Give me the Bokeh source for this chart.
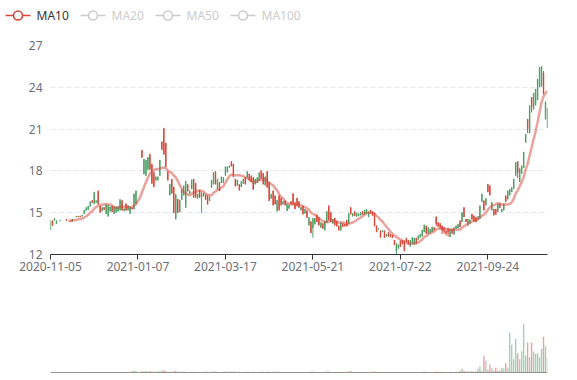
import numpy as np
from bokeh.plotting import figure
from bokeh.models import ColumnDataSource, Range1d, FixedTicker, Span
from bokeh.layouts import column
from bokeh.core.properties import value
from bokeh.embed import file_html
from bokeh.resources import INLINE

# ---------------- data ----------------
tick_index = [0, 44, 88, 132, 176, 220]
tick_labels = ["2020-11-05", "2021-01-07", "2021-03-17", "2021-05-21", "2021-07-22", "2021-09-24"]
price_ticks = [12, 15, 18, 21, 24, 27]
legend_names = ["MA10", "MA20", "MA50", "MA100"]
legend_active = [True, False, False, False]

open_ = [
    13.80, 14.42, 14.45, 14.22, 14.45, 14.43, 14.48, 14.48, 14.52, 14.43,
    14.42, 14.36, 14.55, 14.69, 14.77, 14.77, 14.74, 14.92, 15.16, 15.22,
    15.45, 15.88, 15.65, 15.72, 16.55, 15.48, 15.12, 15.38, 14.92, 14.75,
    15.10, 15.48, 14.92, 15.02, 15.10, 15.17, 15.88, 15.12, 15.65, 15.17,
    14.92, 15.36, 15.26, 15.62, 17.60, 18.50, 19.48, 17.77, 17.67, 18.10,
    19.20, 18.48, 17.88, 17.32, 17.33, 17.67, 20.09, 21.05, 20.00, 17.96,
    16.26, 17.41, 16.85, 14.55, 15.98, 15.06, 15.94, 16.26, 15.40, 17.03,
    16.38, 16.71, 17.41, 17.12, 16.02, 16.62, 16.10, 16.18, 16.29, 16.22,
    15.85, 16.81, 17.05, 17.96, 16.69, 17.17, 17.14, 17.14, 17.67, 17.91,
    18.24, 18.68, 18.49, 17.41, 16.95, 17.03, 16.85, 17.09, 17.53, 17.52,
    17.78, 17.65, 17.53, 17.05, 17.14, 17.28, 18.01, 17.84, 16.97, 17.96,
    17.17, 16.02, 16.57, 16.22, 15.11, 16.22, 16.05, 15.61, 15.86, 15.13,
    15.30, 15.81, 16.38, 15.74, 16.05, 15.81, 15.18, 15.50, 14.94, 15.14,
    14.10, 14.37, 13.90, 14.17, 14.85, 14.66, 13.93, 14.23, 13.74, 14.27,
    15.50, 15.02, 14.22, 14.61, 14.42, 14.06, 13.74, 14.23, 14.18, 14.47,
    14.22, 15.38, 14.75, 15.09, 14.72, 14.77, 14.82, 15.08, 14.87, 14.92,
    14.70, 15.19, 15.08, 14.98, 14.06, 13.78, 13.70, 13.62, 13.70, 13.30,
    13.58, 13.45, 13.40, 13.03, 12.20, 12.43, 12.98, 13.03, 12.98, 13.18,
    13.03, 12.59, 12.79, 12.71, 13.18, 13.07, 13.22, 13.31, 13.62, 14.06,
    13.50, 13.55, 13.62, 13.94, 14.71, 14.30, 14.23, 14.06, 13.94, 13.70,
    13.87, 13.26, 13.82, 13.43, 13.86, 13.91, 14.42, 14.34, 15.38, 14.54,
    14.10, 14.22, 14.90, 14.78, 14.66, 14.53, 14.58, 15.78, 15.86, 15.54,
    17.05, 16.93, 15.18, 15.26, 15.26, 15.06, 15.66, 15.06, 15.18, 16.22,
    15.97, 16.26, 16.49, 16.73, 17.67, 18.68, 17.22, 17.81, 18.22, 20.04,
    21.72, 20.72, 23.28, 22.42, 22.72, 23.08, 24.03, 24.08, 25.00, 21.72,
    21.09,
]
close = [
    14.40, 14.08, 14.58, 14.42, 14.45, 14.48, 14.48, 14.48, 14.43, 14.43,
    14.36, 14.55, 14.55, 14.76, 14.70, 14.70, 14.84, 15.18, 15.38, 15.48,
    15.78, 15.72, 16.45, 15.88, 15.60, 15.02, 15.38, 15.22, 15.58, 15.55,
    15.42, 15.06, 15.42, 15.42, 15.42, 15.95, 15.17, 15.28, 15.17, 15.54,
    15.42, 15.25, 16.35, 16.58, 17.60, 18.50, 18.96, 18.85, 18.78, 18.98,
    18.10, 17.09, 16.86, 17.58, 17.58, 18.78, 19.53, 19.18, 18.29, 17.33,
    17.05, 16.38, 15.00, 16.30, 15.00, 15.90, 16.67, 16.93, 17.25, 16.54,
    16.57, 17.36, 16.09, 16.09, 16.34, 16.09, 16.40, 16.41, 15.94, 15.61,
    16.14, 17.34, 17.89, 17.05, 17.41, 16.57, 17.58, 17.53, 18.30, 18.30,
    18.37, 18.34, 17.57, 16.90, 17.34, 16.61, 17.24, 17.41, 17.05, 17.96,
    17.33, 17.21, 16.66, 17.41, 17.53, 17.89, 17.45, 17.05, 17.58, 16.81,
    15.85, 16.34, 15.54, 15.61, 15.90, 15.18, 15.54, 15.81, 15.54, 15.62,
    15.57, 15.61, 15.61, 15.27, 15.51, 15.37, 15.38, 14.89, 15.26, 14.65,
    14.66, 13.55, 14.60, 14.61, 14.34, 14.10, 14.30, 13.86, 14.42, 15.09,
    14.46, 14.34, 14.54, 14.10, 14.03, 13.74, 14.30, 13.98, 14.03, 14.03,
    14.95, 14.89, 14.95, 14.77, 14.98, 14.93, 15.03, 14.87, 15.18, 15.23,
    15.07, 14.94, 14.80, 14.05, 13.62, 13.84, 13.22, 13.72, 13.22, 13.45,
    13.30, 13.25, 13.20, 12.70, 12.78, 12.70, 12.55, 12.74, 12.26, 12.91,
    12.74, 13.03, 13.22, 13.18, 12.79, 13.34, 13.46, 13.75, 14.13, 13.50,
    13.94, 13.82, 13.98, 13.74, 14.20, 14.05, 13.95, 13.70, 13.65, 13.50,
    13.60, 13.79, 13.50, 13.94, 14.06, 14.18, 13.98, 15.02, 14.70, 14.34,
    14.54, 14.49, 14.53, 14.39, 14.34, 14.73, 15.50, 16.34, 15.18, 16.02,
    16.49, 16.26, 15.74, 14.82, 14.87, 15.62, 15.35, 15.26, 15.62, 15.78,
    16.57, 16.69, 16.81, 17.41, 18.61, 17.90, 18.18, 18.37, 19.35, 20.64,
    21.00, 22.68, 22.60, 23.58, 23.87, 24.58, 25.43, 25.50, 23.60, 22.96,
    22.50,
]
low = [
    13.75, 14.05, 14.43, 14.20, 14.45, 14.42, 14.48, 14.48, 14.42, 14.43,
    14.35, 14.35, 14.55, 14.68, 14.68, 14.68, 14.73, 14.90, 15.15, 15.20,
    15.44, 15.70, 15.60, 15.70, 15.58, 15.00, 15.10, 15.20, 14.90, 14.72,
    15.08, 15.04, 14.90, 15.00, 15.08, 15.15, 15.15, 15.10, 15.15, 15.15,
    14.90, 15.24, 15.24, 15.60, 17.60, 18.50, 18.94, 17.75, 17.65, 18.08,
    18.08, 17.07, 16.83, 17.30, 17.31, 17.65, 19.51, 19.15, 18.27, 17.31,
    16.24, 16.36, 14.97, 14.51, 14.97, 15.04, 15.92, 16.24, 15.33, 16.52,
    16.36, 16.69, 16.07, 16.07, 16.00, 16.07, 14.97, 16.16, 15.92, 15.59,
    15.83, 16.79, 17.03, 17.03, 16.67, 16.55, 17.12, 17.12, 17.65, 17.89,
    18.22, 18.32, 17.55, 16.88, 16.93, 16.59, 16.83, 17.07, 17.03, 17.50,
    17.31, 17.19, 16.64, 17.03, 17.12, 17.26, 17.43, 17.03, 16.95, 16.79,
    15.83, 16.00, 15.52, 15.59, 15.09, 15.16, 15.52, 15.59, 15.52, 15.11,
    15.28, 15.59, 15.59, 15.25, 15.49, 15.35, 15.16, 14.87, 14.92, 14.63,
    14.08, 13.53, 13.20, 14.15, 14.32, 14.08, 13.91, 13.84, 13.72, 14.25,
    14.44, 14.32, 14.20, 14.08, 14.01, 13.72, 13.72, 13.96, 14.01, 14.01,
    14.20, 14.87, 14.73, 14.75, 14.70, 14.75, 14.80, 14.85, 14.85, 14.90,
    14.68, 14.92, 14.78, 14.01, 13.60, 13.77, 13.20, 13.60, 13.20, 13.28,
    13.29, 13.24, 13.18, 12.69, 12.00, 12.41, 12.53, 12.72, 12.24, 12.89,
    12.72, 12.57, 12.77, 12.69, 12.77, 13.05, 13.20, 13.29, 13.60, 13.48,
    13.48, 13.53, 13.60, 13.72, 14.01, 13.96, 13.77, 13.48, 13.48, 13.36,
    13.29, 13.24, 13.48, 13.41, 13.84, 13.89, 13.96, 14.32, 14.68, 14.32,
    14.08, 14.20, 14.51, 14.37, 14.32, 14.51, 14.56, 15.76, 15.16, 15.52,
    16.47, 16.24, 15.16, 14.80, 14.85, 15.04, 15.33, 15.04, 15.16, 15.76,
    15.95, 16.24, 16.47, 16.71, 17.65, 17.50, 17.20, 17.79, 18.20, 20.02,
    20.71, 20.70, 22.20, 22.40, 22.70, 23.06, 24.01, 24.06, 23.50, 21.69,
    21.07,
]
high = [
    14.45, 14.45, 14.62, 14.45, 14.45, 14.49, 14.48, 14.48, 14.53, 14.43,
    14.42, 14.56, 14.55, 14.77, 14.78, 14.78, 14.85, 15.20, 15.39, 15.50,
    15.80, 15.90, 16.50, 15.90, 16.60, 15.50, 15.40, 15.40, 15.60, 15.56,
    15.44, 15.50, 15.44, 15.44, 15.44, 15.98, 15.90, 15.30, 15.67, 15.56,
    15.44, 15.37, 16.37, 16.60, 17.60, 18.50, 19.51, 18.87, 18.80, 19.00,
    19.23, 18.51, 17.92, 17.60, 17.60, 18.80, 20.11, 21.09, 20.02, 17.98,
    17.07, 17.43, 16.88, 16.36, 16.00, 15.92, 16.69, 16.95, 17.29, 17.05,
    16.59, 17.38, 17.43, 17.14, 16.36, 16.64, 16.47, 16.43, 16.31, 16.24,
    16.16, 17.36, 17.91, 17.98, 17.43, 17.19, 17.60, 17.55, 18.32, 18.32,
    18.39, 18.70, 18.51, 17.43, 17.36, 17.05, 17.26, 17.43, 17.55, 17.98,
    17.80, 17.67, 17.55, 17.43, 17.55, 17.91, 18.03, 17.86, 17.60, 17.98,
    17.19, 16.36, 16.59, 16.24, 15.92, 16.24, 16.07, 15.83, 15.88, 15.64,
    15.59, 15.83, 16.40, 15.76, 16.07, 15.83, 15.40, 15.52, 15.28, 15.16,
    14.68, 14.39, 14.63, 14.63, 14.87, 14.68, 14.32, 14.25, 14.44, 15.11,
    15.52, 15.04, 14.56, 14.63, 14.44, 14.08, 14.32, 14.25, 14.20, 14.49,
    14.97, 15.40, 14.97, 15.11, 15.00, 14.95, 15.05, 15.10, 15.20, 15.25,
    15.09, 15.21, 15.10, 15.00, 14.08, 13.86, 13.72, 13.74, 13.72, 13.47,
    13.60, 13.47, 13.42, 13.05, 12.81, 12.72, 13.00, 13.05, 13.00, 13.20,
    13.05, 13.05, 13.24, 13.20, 13.20, 13.36, 13.48, 13.77, 14.15, 14.08,
    13.96, 13.84, 14.00, 13.96, 14.73, 14.32, 14.25, 14.08, 13.96, 13.72,
    13.89, 13.82, 13.84, 13.96, 14.08, 14.20, 14.44, 15.04, 15.40, 14.56,
    14.56, 14.51, 14.92, 14.80, 14.68, 14.75, 15.52, 16.36, 15.88, 16.04,
    17.07, 16.95, 15.76, 15.28, 15.28, 15.64, 15.68, 15.28, 15.64, 16.24,
    16.59, 16.71, 16.83, 17.43, 18.63, 18.70, 18.20, 18.39, 19.37, 20.66,
    21.74, 22.70, 23.30, 23.60, 23.89, 24.60, 25.45, 25.52, 25.16, 22.98,
    22.53,
]
volume = [
    0.4, 0.3, 0.3, 0.3, 0.2, 0.3, 0.2, 0.2, 0.3, 0.2,
    0.3, 0.3, 0.2, 0.3, 0.3, 0.3, 0.3, 0.4, 0.4, 0.4,
    0.5, 0.4, 0.6, 0.4, 0.6, 0.5, 0.4, 0.4, 0.5, 0.5,
    0.4, 0.4, 0.4, 0.4, 0.4, 0.5, 0.5, 0.4, 0.4, 0.4,
    0.5, 1.2, 2.0, 1.5, 0.3, 0.3, 1.2, 1.0, 1.5, 1.0,
    1.2, 1.0, 0.8, 0.8, 1.0, 1.2, 1.5, 2.2, 1.2, 0.8,
    0.8, 0.8, 1.2, 2.0, 0.8, 0.7, 0.7, 0.8, 1.0, 0.6,
    0.6, 0.7, 0.8, 0.7, 0.6, 0.6, 0.8, 0.6, 1.0, 0.8,
    0.6, 0.8, 1.0, 0.9, 0.7, 0.6, 0.6, 0.7, 0.9, 0.8,
    0.8, 1.0, 1.0, 0.8, 0.6, 0.7, 0.6, 0.6, 0.7, 0.8,
    0.7, 0.6, 0.8, 0.6, 0.6, 0.7, 0.7, 0.7, 0.6, 0.8,
    1.0, 0.6, 0.8, 0.7, 0.7, 0.8, 0.6, 0.5, 0.5, 0.6,
    0.5, 0.5, 0.6, 0.6, 0.6, 0.5, 0.5, 0.6, 0.5, 0.6,
    0.6, 0.9, 1.0, 0.7, 0.6, 0.6, 0.5, 0.6, 0.8, 1.2,
    1.0, 0.6, 0.5, 0.6, 0.5, 0.6, 0.7, 0.5, 0.5, 0.6,
    1.5, 1.2, 0.6, 0.5, 0.5, 0.5, 0.6, 0.6, 0.5, 0.5,
    0.6, 0.7, 0.8, 0.9, 0.7, 0.5, 0.6, 0.5, 0.6, 0.5,
    0.5, 0.5, 0.5, 0.6, 0.8, 0.6, 0.5, 0.5, 0.5, 0.4,
    0.5, 0.5, 0.5, 0.5, 0.5, 0.5, 0.5, 0.7, 1.0, 0.8,
    0.6, 0.6, 0.6, 0.6, 1.0, 0.8, 0.8, 0.7, 0.6, 0.6,
    0.6, 0.7, 0.6, 0.6, 0.7, 0.8, 1.5, 3.7, 2.0, 1.0,
    1.2, 1.0, 1.2, 1.0, 1.0, 3.7, 6.0, 2.0, 16.7, 12.0,
    2.7, 8.0, 4.3, 2.0, 4.7, 2.0, 2.0, 4.7, 4.0, 9.3,
    5.0, 39.7, 27.7, 13.3, 33.7, 19.0, 13.3, 21.3, 48.3, 17.3,
    30.0, 15.3, 30.0, 21.0, 18.7, 19.3, 15.3, 23.7, 35.7, 26.3,
    14.7,
]

# ---------------- styling ----------------
UP = "#52a069"
DOWN = "#d6483a"
MA_COLOR = "#d6483a"
GREY = "#cccccc"
FONT = "Noto Sans"
LABEL = "#6E7079"
W = 577

n = len(close)
idx = list(range(n))
colors = [UP if c >= o else DOWN for o, c in zip(open_, close)]
src = ColumnDataSource(dict(
    x=idx, low=low, high=high,
    top=[max(o, c) for o, c in zip(open_, close)],
    bottom=[min(o, c) for o, c in zip(open_, close)],
    color=colors, vol=volume,
))
ma10 = np.convolve(np.array(close), np.ones(10) / 10.0, mode="valid")
ma_x = list(range(9, n))

# ---------------- legend strip ----------------
pl = figure(width=W, height=28, x_range=Range1d(0, W), y_range=Range1d(0, 28),
            output_backend="svg", toolbar_location=None,
            x_axis_location=None, y_axis_location=None, min_border=0)
if "frame_align" in pl.properties():
    pl.frame_align = False
pl.grid.visible = False
pl.outline_line_color = None
icon_x = [5, 80, 155, 230]
text_x = [36, 111, 186, 261]
cy = [13] * 4
icon_col = [MA_COLOR if a else GREY for a in legend_active]
text_col = ["#333333" if a else GREY for a in legend_active]
pl.segment(x0=icon_x, y0=cy, x1=[x + 25 for x in icon_x], y1=cy,
           line_color=icon_col, line_width=1.6)
pl.scatter(x=[x + 12.5 for x in icon_x], y=cy, size=9, marker="circle",
           fill_color="white", line_color=icon_col, line_width=1.6)
pl.text(x=text_x, y=cy, text=legend_names, text_color=text_col,
        text_font=value(FONT), text_font_size=value("12px"),
        text_baseline="middle", text_align="left")

# ---------------- main candlestick panel ----------------
p1 = figure(width=W, height=262, x_range=Range1d(0, n - 1), y_range=Range1d(12, 27),
            output_backend="svg", toolbar_location=None,
            min_border_left=50, min_border_right=30, min_border_top=17, min_border_bottom=36)
p1.outline_line_color = None
p1.xgrid.visible = False
p1.ygrid.ticker = FixedTicker(ticks=price_ticks)
p1.ygrid.grid_line_color = "#E0E6F1"
p1.ygrid.grid_line_dash = "5 3"
p1.ygrid.grid_line_width = 1

p1.yaxis.ticker = FixedTicker(ticks=price_ticks)
p1.yaxis.axis_line_color = None
p1.yaxis.major_tick_line_color = None
p1.yaxis.minor_tick_line_color = None
p1.yaxis.major_tick_out = 0
p1.yaxis.major_tick_in = 0
p1.yaxis.minor_tick_out = 0
p1.yaxis.major_label_standoff = 8
p1.yaxis.major_label_text_font = FONT
p1.yaxis.major_label_text_font_size = "12px"
p1.yaxis.major_label_text_color = LABEL

p1.xaxis.ticker = FixedTicker(ticks=tick_index, minor_ticks=[])
p1.xaxis.major_label_overrides = {i: lab for i, lab in zip(tick_index, tick_labels)}
p1.xaxis.axis_line_color = "#333333"
p1.xaxis.major_tick_line_color = "#333333"
p1.xaxis.major_tick_out = 5
p1.xaxis.major_tick_in = 0
p1.xaxis.minor_tick_line_color = None
p1.xaxis.major_label_standoff = 2
p1.xaxis.major_label_text_font = FONT
p1.xaxis.major_label_text_font_size = "12px"
p1.xaxis.major_label_text_color = LABEL

p1.segment(x0="x", y0="low", x1="x", y1="high", line_color="color", line_width=1, source=src)
p1.vbar(x="x", width=0.7, top="top", bottom="bottom", fill_color="color",
        line_color=None, source=src)
p1.line(x=ma_x, y=ma10, line_color=MA_COLOR, line_alpha=0.5, line_width=2.5)

# ---------------- volume panel ----------------
p2 = figure(width=W, height=90, x_range=p1.x_range, y_range=Range1d(0, 72),
            output_backend="svg", toolbar_location=None,
            x_axis_location=None, y_axis_location=None,
            min_border_left=50, min_border_right=30, min_border_top=10, min_border_bottom=8)
p2.grid.visible = False
p2.outline_line_color = None
p2.vbar(x="x", width=0.7, top="vol", bottom=0, fill_color="color", fill_alpha=0.5,
        line_color=None, source=src)
p2.add_layout(Span(location=0, dimension="width", line_color="#333333", line_width=1))

layout = column(pl, p1, p2)
open("out.html", "w").write(file_html(layout, INLINE))
